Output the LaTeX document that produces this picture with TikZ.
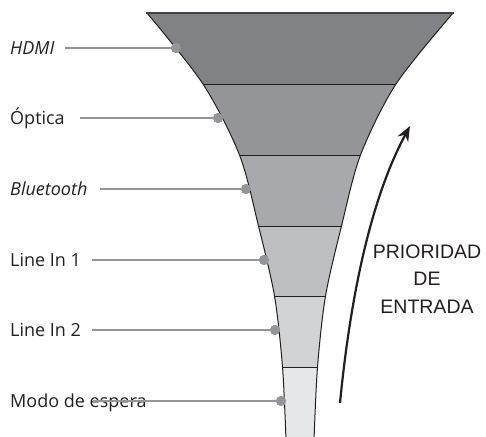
\documentclass[tikz,border=0pt]{standalone}
\usepackage{fontspec}
\setmainfont{Open Sans}
\newfontfamily\arialfont{Liberation Sans}
\usetikzlibrary{arrows.meta}
\definecolor{inkc}{HTML}{231F20}
\definecolor{topc}{HTML}{414042}
\definecolor{bandA}{HTML}{808285}
\definecolor{bandB}{HTML}{939598}
\definecolor{bandC}{HTML}{A7A9AC}
\definecolor{bandD}{HTML}{BCBEC0}
\definecolor{bandE}{HTML}{D1D3D4}
\definecolor{bandF}{HTML}{E6E7E8}
\definecolor{leadc}{HTML}{939598}
\tikzset{
  lbl/.style={anchor=base west, inner sep=0pt, text=inkc, font=\fontsize{18}{21}\selectfont},
  lead/.style={draw=leadc, line width=2.6pt},
  dotnode/.style={circle, fill=leadc, minimum size=10pt, inner sep=0pt},
  prio/.style={anchor=base, inner sep=0pt, text=inkc, font=\arialfont\fontsize{19.5}{23}\selectfont},
  sep/.style={draw=inkc, line width=1pt},
}
\begin{document}
\begin{tikzpicture}[x=1pt,y=-1pt]
\useasboundingbox (0,0) rectangle (486,436);
\def\funnel{(147,13) -- (453,13)
  -- plot[smooth] coordinates {(453,13) (396,84) (360.5,155) (341.5,226) (325.5,296) (317.5,367) (314,440)}
  -- (286,440)
  -- plot[smooth] coordinates {(286,440) (282.5,367) (274.5,296) (258.5,226) (239.5,155) (203,84) (147,13)}
  -- cycle}
\begin{scope}
  \clip \funnel;
  \fill[bandA] (0,13) rectangle (486,84);
  \fill[bandB] (0,84) rectangle (486,155);
  \fill[bandC] (0,155) rectangle (486,226);
  \fill[bandD] (0,226) rectangle (486,296);
  \fill[bandE] (0,296) rectangle (486,367);
  \fill[bandF] (0,367) rectangle (486,440);
  \draw[sep] (0,84) -- (486,84);
  \draw[sep] (0,155) -- (486,155);
  \draw[sep] (0,226) -- (486,226);
  \draw[sep] (0,296) -- (486,296);
  \draw[sep] (0,367) -- (486,367);
\end{scope}
\draw[inkc, line width=1pt] plot[smooth] coordinates {(453,13) (396,84) (360.5,155) (341.5,226) (325.5,296) (317.5,367) (314,440)};
\draw[inkc, line width=1pt] plot[smooth] coordinates {(286,440) (282.5,367) (274.5,296) (258.5,226) (239.5,155) (203,84) (147,13)};
\draw[topc, line width=2.6pt] (146,13) -- (454,13);

% labels
\node[lbl, font=\fontsize{18}{21}\selectfont\itshape] (l1) at (10,54) {HDMI};
\node[lbl] (l2) at (10,124) {Óptica};
\node[lbl, font=\fontsize{18}{21}\selectfont\itshape] (l3) at (10,195) {Bluetooth};
\node[lbl] (l4) at (10,266) {Line In 1};
\node[lbl] (l5) at (10,336) {Line In 2};
\node[lbl] (l6) at (10,407) {Modo de espera};

\coordinate (s1) at (65,48);
\coordinate (s2) at (80,118);
\coordinate (s3) at (100,189);
\coordinate (s4) at (92,260);
\coordinate (s5) at (92,330);
\coordinate (s6) at (93,401);

\node[dotnode] (d1) at (176,48) {};
\node[dotnode] (d2) at (218,118) {};
\node[dotnode] (d3) at (246,189) {};
\node[dotnode] (d4) at (264,260) {};
\node[dotnode] (d5) at (275,330) {};
\node[dotnode] (d6) at (281,401) {};

\draw[lead] (s1) -- (d1.center);
\draw[lead] (s2) -- (d2.center);
\draw[lead] (s3) -- (d3.center);
\draw[lead] (s4) -- (d4.center);
\draw[lead] (s5) -- (d5.center);
\draw[lead] (s6) -- (d6.center);
\node[dotnode] at (d1) {};
\node[dotnode] at (d2) {};
\node[dotnode] at (d3) {};
\node[dotnode] at (d4) {};
\node[dotnode] at (d5) {};
\node[dotnode] at (d6) {};

% arrow
\coordinate (a0) at (340,403);
\coordinate (a1) at (410,126);
\draw[inkc, line width=2.2pt, -{Stealth[length=15pt,width=12pt]}] (a0) .. controls (350,300) and (370,200) .. (a1);

\node[prio] (p1) at (427,258) {PRIORIDAD};
\node[prio] (p2) at (427,285.5) {DE};
\node[prio] (p3) at (427,313) {ENTRADA};
\end{tikzpicture}
\end{document}
